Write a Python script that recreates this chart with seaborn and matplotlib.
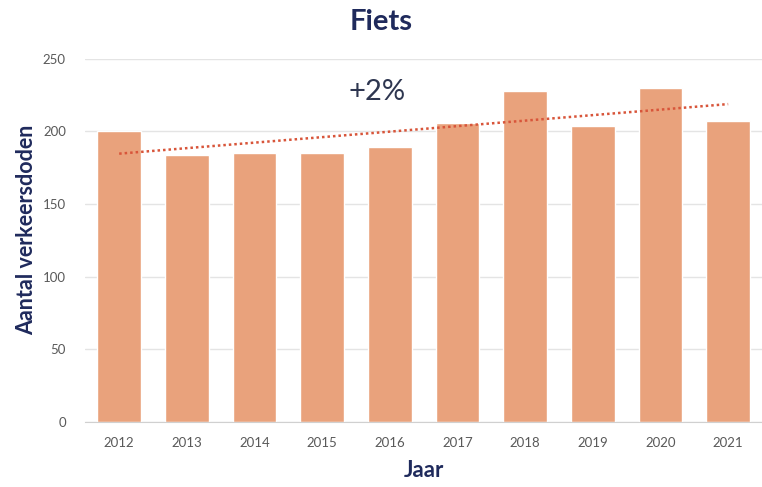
import numpy as np
import pandas as pd
import seaborn as sns
import matplotlib
matplotlib.use("Agg")
import matplotlib.pyplot as plt

# Gegevens: verkeersdoden fiets per jaar
jaren = ["2012", "2013", "2014", "2015", "2016", "2017", "2018", "2019", "2020", "2021"]
doden = [200, 184, 185, 185, 189, 206, 228, 204, 230, 207]
trend_label = "+2%"

df = pd.DataFrame({"Jaar": jaren, "Doden": doden})

sns.set_style("white")
plt.rcParams["font.family"] = ["Lato", "DejaVu Sans"]

navy = "#1f2a5c"
grijs = "#595959"

fig = plt.figure(figsize=(7.62, 4.87), dpi=100)
ax = fig.add_axes([0.112, 0.134, 0.888, 0.745])

sns.barplot(data=df, x="Jaar", y="Doden", color="#e9a27c", saturation=1,
            width=0.65, ax=ax, zorder=2)

# lineaire trendlijn
xs = np.arange(len(doden))
a, b = np.polyfit(xs, doden, 1)
ax.plot(xs, a * xs + b, linestyle=(0, (1, 1.2)), color="#d8553a", lw=1.8, zorder=3)

ax.set_ylim(0, 250)
ax.set_yticks([0, 50, 100, 150, 200, 250])
ax.set_xlim(-0.5, len(jaren) - 0.5)
ax.yaxis.grid(True, color="#e4e4e4", lw=1, zorder=0)
for s in ["top", "right", "left"]:
    ax.spines[s].set_visible(False)
ax.spines["bottom"].set_color("#d0d0d0")
ax.tick_params(axis="both", length=0, labelsize=9.5, colors=grijs, pad=11)
ax.tick_params(axis="y", pad=14)

ax.set_xlabel("Jaar", fontsize=16, fontweight="bold", color=navy, labelpad=8)
ax.set_ylabel("Aantal verkeersdoden", fontsize=15.5, fontweight="bold", color=navy)
ax.yaxis.set_label_coords(-0.071, 0.53)

fig.text(0.5, 0.955, "Fiets", ha="center", va="center", fontsize=21,
         fontweight="bold", color=navy)
ax.text(3.81, 227, trend_label, ha="center", va="center", fontsize=21, color="#2e3650")

fig.savefig("out.png", dpi=100)
